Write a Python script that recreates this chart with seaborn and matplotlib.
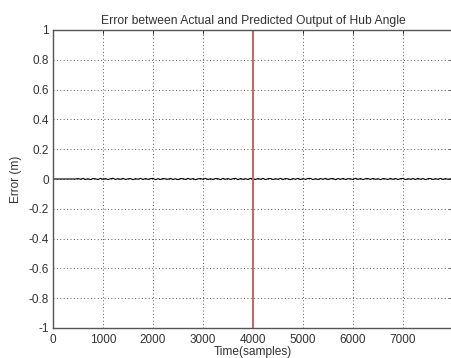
import matplotlib
matplotlib.use("Agg")
import matplotlib.pyplot as plt
import seaborn as sns
import numpy as np
import pandas as pd

# ---- data ----
title = "Error between Actual and Predicted Output of Hub Angle"
x_label = "Time(samples)"
y_label = "Error (m)"
x_ticks = [0, 1000, 2000, 3000, 4000, 5000, 6000, 7000]
y_ticks = [-1, -0.8, -0.6, -0.4, -0.2, 0, 0.2, 0.4, 0.6, 0.8, 1]
y_tick_labels = ["-1", "-0.8", "-0.6", "-0.4", "-0.2", "0", "0.2", "0.4", "0.6", "0.8", "1"]
split_sample = 4000

# error series sampled every 50 samples (flat before ~500, tiny ripple after)
err_start = [0.0, 0.0, 0.0, 0.0, 0.0, 0.0, 0.0, 0.0, 0.0, 0.0]
err_ripple = [
    0.003, -0.002, 0.004, -0.003, 0.002, -0.004, 0.003, 0.001, -0.003, 0.004,
    -0.002, 0.003, -0.004, 0.002, 0.005, -0.003, 0.002, -0.002, 0.004, -0.003,
    0.001, 0.003, -0.004, 0.002, -0.001, 0.004, -0.003, 0.003, -0.002, 0.002,
    0.004, -0.004, 0.002, -0.003, 0.003, 0.001, -0.002, 0.004, -0.003, 0.002,
    -0.004, 0.003, 0.002, -0.003, 0.004, -0.002, 0.003, -0.004, 0.001, 0.003,
    -0.002, 0.004, -0.003, 0.002, -0.003, 0.003, 0.002, -0.004, 0.004, -0.002,
    0.003, -0.003, 0.002, 0.004, -0.004, 0.003, -0.002, 0.002, -0.003, 0.004,
    0.001, -0.003, 0.003, -0.002, 0.004, -0.004, 0.002, 0.003, -0.003, 0.002,
    -0.002, 0.004, -0.003, 0.003, 0.001, -0.004, 0.003, -0.002, 0.004, -0.003,
    0.002, -0.002, 0.003, 0.004, -0.004, 0.002, -0.003, 0.003, -0.002, 0.004,
    -0.003, 0.002, 0.003, -0.004, 0.003, -0.002, 0.004, -0.003, 0.002, 0.001,
    -0.003, 0.004, -0.002, 0.003, -0.004, 0.002, 0.003, -0.003, 0.004, -0.002,
    0.002, -0.004, 0.003, 0.001, -0.003, 0.004, -0.002, 0.003, -0.003, 0.002,
    0.004, -0.004, 0.002, -0.002, 0.003, -0.003, 0.004, -0.002, 0.003, -0.004,
    0.002, 0.003, -0.003, 0.002, -0.002, 0.004, -0.003, 0.003, -0.002, 0.002,
]
err_values = err_start + err_ripple
sample_step = 50
samples = [i * sample_step for i in range(len(err_values))]

df = pd.DataFrame({"sample": samples, "error": err_values})

# ---- plot ----
sns.set_theme(style="white")
plt.rcParams["font.family"] = ["Liberation Sans", "DejaVu Sans"]

fig = plt.figure(figsize=(4.51, 3.58), dpi=100)
ax = fig.add_axes([53 / 451, 1 - 328 / 358, 400 / 451, 298 / 358])

sns.lineplot(data=df, x="sample", y="error", ax=ax, color="black", linewidth=0.8)
ax.axvline(split_sample, color="#c46a6a", linewidth=1.5)

ax.set_xlim(0, 8000)
ax.set_ylim(-1, 1)
ax.set_xticks(x_ticks)
ax.set_xticklabels([str(t) for t in x_ticks])
ax.set_yticks(y_ticks)
ax.set_yticklabels(y_tick_labels)

ax.grid(True, color="#555555", linestyle=(0, (1, 2.5)), linewidth=0.7)
ax.tick_params(direction="in", length=3, width=0.7, colors="#333333",
               labelsize=8.5, top=True, right=True, labelcolor="#333333")
ax.tick_params(axis="x", pad=4)
ax.tick_params(axis="y", pad=3)
for s in ax.spines.values():
    s.set_color("#555555")
    s.set_linewidth(1.0)

ax.set_title(title, fontsize=8.7, color="#333333", pad=4)
ax.set_xlabel(x_label, fontsize=8.6, color="#333333", labelpad=0)
ax.set_ylabel(y_label, fontsize=8.6, color="#333333", labelpad=5)

fig.savefig("out.png", dpi=100)
